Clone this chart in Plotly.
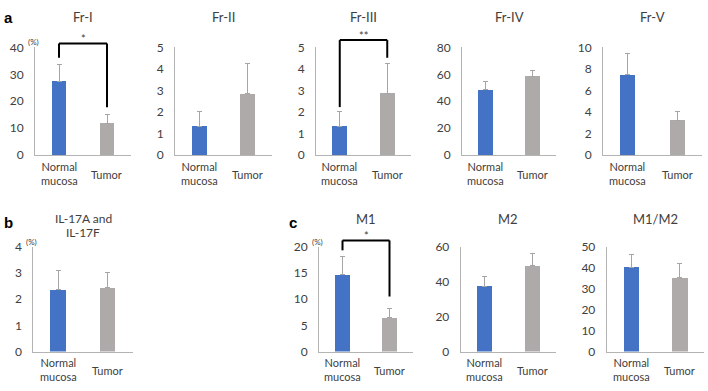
import plotly.graph_objects as go

W, H = 708, 391

categories = ["Normal<br>mucosa", "Tumor"]

titles = ["Fr-I", "Fr-II", "Fr-III", "Fr-IV", "Fr-V", "IL-17A and<br>IL-17F", "M1", "M2", "M1/M2"]

means = {
    "Fr-I": [27.4, 11.8],
    "Fr-II": [1.33, 2.84],
    "Fr-III": [1.33, 2.86],
    "Fr-IV": [48.4, 58.6],
    "Fr-V": [7.44, 3.19],
    "IL-17A and<br>IL-17F": [2.36, 2.45],
    "M1": [14.7, 6.5],
    "M2": [37.4, 49.2],
    "M1/M2": [40.4, 35.2],
}
sds = {
    "Fr-I": [6.1, 3.2],
    "Fr-II": [0.71, 1.40],
    "Fr-III": [0.71, 1.41],
    "Fr-IV": [6.6, 4.0],
    "Fr-V": [2.02, 0.83],
    "IL-17A and<br>IL-17F": [0.74, 0.57],
    "M1": [3.4, 1.8],
    "M2": [5.6, 6.9],
    "M1/M2": [5.8, 6.8],
}
y_max = {"Fr-I": 40, "Fr-II": 5, "Fr-III": 5, "Fr-IV": 80, "Fr-V": 10,
         "IL-17A and<br>IL-17F": 4, "M1": 20, "M2": 60, "M1/M2": 50}
y_step = {"Fr-I": 10, "Fr-II": 1, "Fr-III": 1, "Fr-IV": 20, "Fr-V": 2,
          "IL-17A and<br>IL-17F": 1, "M1": 5, "M2": 20, "M1/M2": 10}

# significance brackets: (left bottom, top, right bottom, label)
brackets = {
    "Fr-I": (36.2, 41.5, 17.75, "*"),
    "Fr-III": (2.23, 5.34, 4.52, "**"),
    "M1": (19.36, 21.25, 10.53, "*"),
}
percent_panels = ["Fr-I", "IL-17A and<br>IL-17F", "M1"]

# layout (pixels)
x_px = {
    "Fr-I": (35, 131), "Fr-II": (175, 272), "Fr-III": (316, 411),
    "Fr-IV": (462, 556), "Fr-V": (603, 702),
    "IL-17A and<br>IL-17F": (33.3, 132.7), "M1": (319, 413),
    "M2": (460.7, 556), "M1/M2": (606.7, 704),
}
row_top = (41, 153)
row_bot = (248.5, 357.3)
top_row = ["Fr-I", "Fr-II", "Fr-III", "Fr-IV", "Fr-V"]

BLUE = "#4472C4"
GRAY = "#AEAAAA"
AXIS = "#B4B4B4"
FONT = "Lato, Carlito, Calibri, sans-serif"

fig = go.Figure()
layout = dict(
    width=W, height=H, margin=dict(l=0, r=0, t=0, b=0),
    paper_bgcolor="white", plot_bgcolor="white", showlegend=False,
    bargap=0, font=dict(family=FONT, color="#404040", size=11),
)
annotations = []
shapes = []

def py(p):
    return 1 - p / H

for i, t in enumerate(titles):
    n = i + 1
    xs = "" if n == 1 else str(n)
    x0, x1 = x_px[t]
    rt = row_top if t in top_row else row_bot
    fig.add_trace(go.Bar(
        x=[0, 1], y=means[t], width=0.31,
        marker=dict(color=[BLUE, GRAY], line=dict(width=0)),
        error_y=dict(type="data", symmetric=False, array=sds[t], arrayminus=[0, 0],
                     color="#A5A5A5", thickness=1, width=2.5),
        xaxis="x" + xs, yaxis="y" + xs, hoverinfo="skip",
    ))
    ym = y_max[t]
    st = y_step[t]
    tv = list(range(0, ym + 1, st))
    layout["xaxis" + xs] = dict(
        domain=[x0 / W, x1 / W], range=[-0.5, 1.5], anchor="y" + xs,
        showline=True, linecolor=AXIS, linewidth=1, showticklabels=False,
        ticks="", showgrid=False, zeroline=False, fixedrange=True,
    )
    layout["yaxis" + xs] = dict(
        domain=[py(rt[1]), py(rt[0])], range=[0, ym], anchor="x" + xs,
        showline=True, linecolor=AXIS, linewidth=1, tickvals=tv,
        ticks="", ticklabelstandoff=8, showgrid=False, zeroline=False,
        tickfont=dict(size=12, color="#404040", family=FONT), fixedrange=True,
    )
    xd = "x" + xs + " domain"
    yd = "y" + xs + " domain"
    # category labels
    for j, c in enumerate(categories):
        annotations.append(dict(
            xref=xd, yref=yd, x=(j + 0.5) / 2, y=0, xanchor="center", yanchor="middle",
            yshift=-18 if j == 0 else -19, text=c, showarrow=False,
            font=dict(size=11, family=FONT, color="#404040"),
        ))
    # title
    if t == "IL-17A and<br>IL-17F":
        for line, yc in zip(t.split("<br>"), (218.5, 233.5)):
            annotations.append(dict(xref=xd, yref="paper", x=0.5, y=py(yc),
                                    xanchor="center", yanchor="middle", text=line,
                                    showarrow=False,
                                    font=dict(size=12, family=FONT, color="#404040")))
    else:
        yc = 9.5 if t in top_row else 219.5
        annotations.append(dict(xref=xd, yref="paper", x=0.5, y=py(yc),
                                xanchor="center", yanchor="middle", text=t,
                                showarrow=False,
                                font=dict(size=13, family=FONT, color="#404040")))
    # (%) units
    if t in percent_panels:
        annotations.append(dict(xref=xd, yref=yd, x=0, y=1, xanchor="center",
                                yanchor="bottom", xshift=-2, yshift=-2, text="(%)",
                                showarrow=False,
                                font=dict(size=8, family=FONT, color="#404040")))
    # brackets
    if t in brackets:
        lb, tp, rb, lab = brackets[t]
        xl, xr = 0.25, 0.75
        lw = dict(color="black", width=2)
        shapes.append(dict(type="line", xref=xd, yref=yd, x0=xl, x1=xl,
                           y0=lb / ym, y1=tp / ym, line=lw))
        shapes.append(dict(type="line", xref=xd, yref=yd, x0=xl, x1=xr,
                           y0=tp / ym, y1=tp / ym, line=lw))
        shapes.append(dict(type="line", xref=xd, yref=yd, x0=xr, x1=xr,
                           y0=tp / ym, y1=rb / ym, line=lw))
        annotations.append(dict(xref=xd, yref=yd, x=0.5, y=tp / ym, xanchor="center",
                                yanchor="bottom", yshift=-4, text=lab, showarrow=False,
                                font=dict(size=11, family=FONT, color="#404040")))

# panel letters
for letter, xc, yc in (("a", 8.5, 10), ("b", 8.5, 223), ("c", 292.5, 223.5)):
    annotations.append(dict(xref="paper", yref="paper", x=xc / W, y=py(yc),
                            xanchor="center", yanchor="middle", text="<b>%s</b>" % letter,
                            showarrow=False,
                            font=dict(size=15, family="Liberation Sans, Arial, sans-serif",
                                      color="black")))

layout["annotations"] = annotations
layout["shapes"] = shapes
fig.update_layout(**layout)
fig.write_html("out.html", config={"displayModeBar": False},
               post_script="document.body.style.margin='0';document.body.style.padding='0';")
